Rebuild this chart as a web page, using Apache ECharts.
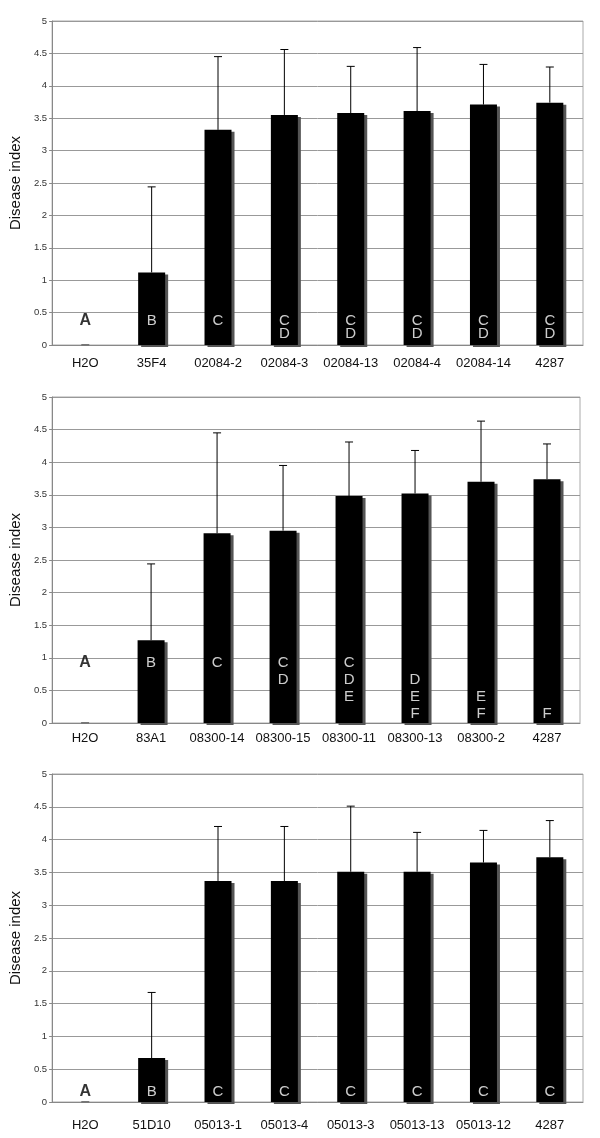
<!DOCTYPE html>
<html>
<head>
<meta charset="utf-8">
<script src="https://cdn.jsdelivr.net/npm/echarts@6/dist/echarts.min.js"></script>
<style>
html,body{margin:0;padding:0;background:#fff;}
#chart{width:600px;height:1138px;}
</style>
</head>
<body>
<div id="chart"></div>
<script>
// ---- Data ----
const cats1 = ['H2O','35F4','02084-2','02084-3','02084-13','02084-4','02084-14','4287'];
const means1 = [0, 1.12, 3.32, 3.55, 3.58, 3.61, 3.71, 3.74];
const sd1 = [0, 1.32, 1.13, 1.01, 0.72, 0.98, 0.62, 0.55];
const letters1 = ['A','B','C','CD','CD','CD','CD','CD'];

const cats2 = ['H2O','83A1','08300-14','08300-15','08300-11','08300-13','08300-2','4287'];
const means2 = [0, 1.27, 2.91, 2.95, 3.48, 3.52, 3.70, 3.74];
const sd2 = [0, 1.17, 1.54, 1.00, 0.83, 0.66, 0.93, 0.54];
const letters2 = ['A','B','C','CD','CDE','DEF','EF','F'];

const cats3 = ['H2O','51D10','05013-1','05013-4','05013-3','05013-13','05013-12','4287'];
const means3 = [0, 0.67, 3.37, 3.37, 3.51, 3.51, 3.65, 3.73];
const sd3 = [0, 1.00, 0.83, 0.83, 1.00, 0.60, 0.49, 0.56];
const letters3 = ['A','B','C','C','C','C','C','C'];

const yTicks = [0, 5, 0.5]; // min, max, interval
const yName = 'Disease index';

// ---- Build ----
const FONT = '"Liberation Sans", Arial, Helvetica, sans-serif';
const panels = [
  {cats: cats1, means: means1, sd: sd1, letters: letters1, grid: {left: 48, right: 17, top: 21, height: 324}, lineH: 13, dist: 5, xMargin: 12},
  {cats: cats2, means: means2, sd: sd2, letters: letters2, grid: {left: 47, right: 20, top: 397, height: 326}, lineH: 17, dist: 1, xMargin: 9},
  {cats: cats3, means: means3, sd: sd3, letters: letters3, grid: {left: 48, right: 17, top: 774, height: 328}, lineH: 14, dist: 3, xMargin: 17}
];

function letterText(letters, str) {
  // compact letter display aligned by letter: A/B/C share row 0, D row 1, ...
  let nRows = 1;
  letters.forEach(s => { for (const ch of s) nRows = Math.max(nRows, Math.max(0, ch.charCodeAt(0) - 67) + 1); });
  const rows = new Array(nRows).fill(' ');
  for (const ch of str) rows[Math.max(0, ch.charCodeAt(0) - 67)] = ch;
  return rows.join('\n');
}

const grid = [], xAxis = [], yAxis = [], series = [];
panels.forEach((p, k) => {
  grid.push(Object.assign({show: true, borderColor: '#aaa', borderWidth: 1, backgroundColor: '#fff'}, p.grid));
  xAxis.push({
    type: 'category', gridIndex: k, data: p.cats,
    axisLine: {lineStyle: {color: '#888'}}, axisTick: {show: false},
    axisLabel: {color: '#111', fontSize: 13, fontFamily: FONT, margin: p.xMargin, interval: 0}
  });
  yAxis.push({
    type: 'value', gridIndex: k, min: yTicks[0], max: yTicks[1], interval: yTicks[2],
    name: yName, nameLocation: 'middle', nameGap: 25,
    nameTextStyle: {fontSize: 15, color: '#111', fontFamily: FONT},
    axisLine: {show: true, lineStyle: {color: '#888'}},
    axisTick: {show: true, length: 3, lineStyle: {color: '#888'}},
    axisLabel: {fontSize: 9.5, color: '#333', fontFamily: FONT, margin: 5},
    splitLine: {lineStyle: {color: '#999', width: 1}}
  });
  series.push({
    type: 'bar', xAxisIndex: k, yAxisIndex: k, data: p.means, barWidth: 27,
    itemStyle: {color: '#000', shadowColor: '#555', shadowOffsetX: 3, shadowOffsetY: 2, shadowBlur: 0},
    silent: true, animation: false, z: 2
  });
  series.push({
    type: 'custom', xAxisIndex: k, yAxisIndex: k,
    data: p.means.map((m, i) => [i, m, m + p.sd[i]]),
    encode: {x: 0, y: [1, 2]},
    renderItem: function (params, api) {
      const x = api.value(0), m = api.value(1), u = api.value(2);
      const p0 = api.coord([x, m]), p1 = api.coord([x, u]);
      const hw = 4;
      const zero = (u === 0);
      return {type: 'group', children: [
        {type: 'line', shape: {x1: p0[0], y1: p0[1], x2: p1[0], y2: p1[1]}, style: {stroke: '#000', lineWidth: 1}},
        {type: 'line', shape: {x1: p1[0] - hw, y1: p1[1], x2: p1[0] + hw, y2: p1[1]}, style: {stroke: zero ? '#777' : '#000', lineWidth: zero ? 2 : 1}}
      ]};
    },
    silent: true, animation: false, z: 3
  });
  series.push({
    type: 'scatter', xAxisIndex: k, yAxisIndex: k, symbolSize: 0,
    data: p.letters.map((s, i) => ({
      value: [i, 0],
      label: i === 0 ? {color: '#000', fontWeight: 'bold', fontSize: 16} : {}
    })),
    label: {
      show: true, position: 'top', distance: p.dist,
      formatter: (d) => letterText(p.letters, p.letters[d.dataIndex]),
      color: '#fff', fontSize: 15, lineHeight: p.lineH, fontFamily: FONT, align: 'center'
    },
    silent: true, animation: false, z: 4
  });
});

const chart = echarts.init(document.getElementById('chart'), null, {renderer: 'canvas'});
chart.setOption({
  backgroundColor: '#fff',
  animation: false,
  textStyle: {fontFamily: FONT},
  grid, xAxis, yAxis, series
});
</script>
</body>
</html>
